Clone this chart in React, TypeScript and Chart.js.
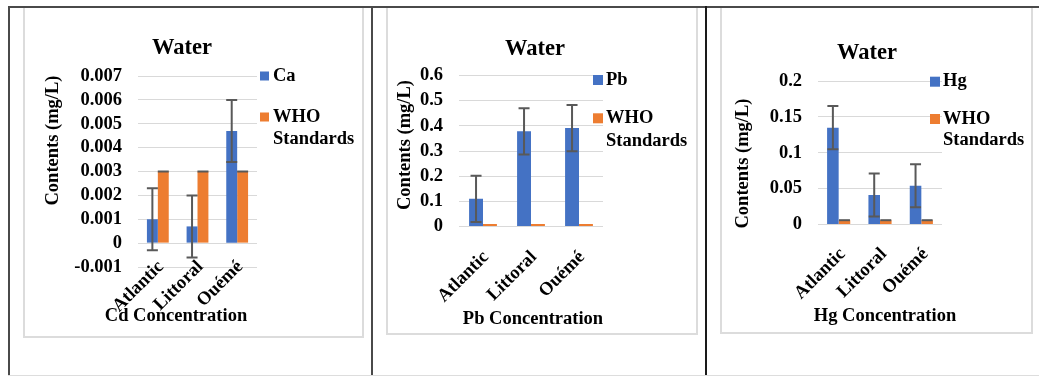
import React, { useEffect, useRef } from "react";
import { Chart, registerables } from "chart.js";

Chart.register(...registerables);

// ---------- data ----------
const REGIONS = ["Atlantic", "Littoral", "Ouémé"];
const WHO_LABEL = ["WHO", "Standards"];
const CHART_TITLE = "Water";
const Y_TITLE = "Contents (mg/L)";

const CD_SERIES = "Ca";
const CD_VALUES = [0.001, 0.0007, 0.0047];
const CD_ERRORS = [0.0013, 0.0013, 0.0013];
const CD_WHO = [0.003, 0.003, 0.003];
const CD_WHO_ERRORS = [0, 0, 0];
const CD_TICKS = ["-0.001", "0", "0.001", "0.002", "0.003", "0.004", "0.005", "0.006", "0.007"];
const CD_X_TITLE = "Cd Concentration";

const PB_SERIES = "Pb";
const PB_VALUES = [0.11, 0.378, 0.391];
const PB_ERRORS = [0.092, 0.092, 0.092];
const PB_WHO = [0.01, 0.01, 0.01];
const PB_TICKS = ["0", "0.1", "0.2", "0.3", "0.4", "0.5", "0.6"];
const PB_X_TITLE = "Pb Concentration";

const HG_SERIES = "Hg";
const HG_VALUES = [0.135, 0.041, 0.054];
const HG_ERRORS = [0.03, 0.03, 0.03];
const HG_WHO = [0.006, 0.006, 0.006];
const HG_WHO_ERRORS = [0, 0, 0];
const HG_TICKS = ["0", "0.05", "0.1", "0.15", "0.2"];
const HG_X_TITLE = "Hg Concentration";

// ---------- styles ----------
const FONT = '"Liberation Serif", "Times New Roman", serif';
const BLUE = "#4472C4";
const ORANGE = "#ED7D31";
const GRID = "#d9d9d9";
const ERR = "#595959";

const PANELS = [
  {
    key: "cd",
    frame: { left: 23, top: 6, width: 341, height: 332 },
    series: CD_SERIES, values: CD_VALUES, errors: CD_ERRORS, who: CD_WHO, whoErrors: CD_WHO_ERRORS,
    ticks: CD_TICKS, yMin: -0.001, yMax: 0.007, step: 0.001, xTitle: CD_X_TITLE,
    area: { left: 113, right: 232, top: 68, bottom: 259 },
    xAtZero: true, labelPad: 13, labelOffset: 3, catPct: 0.55,
    text: { title: [157, 40], yTitle: [28.5, 132.5], xTitle: [151, 308], boxX: 235, box: 9, textX: 248, legendY: [68, 109], lineGap: 22 },
  },
  {
    key: "pb",
    frame: { left: 386, top: 6, width: 312, height: 329 },
    series: PB_SERIES, values: PB_VALUES, errors: PB_ERRORS, who: PB_WHO, whoErrors: null,
    ticks: PB_TICKS, yMin: 0, yMax: 0.6, step: 0.1, xTitle: PB_X_TITLE,
    area: { left: 71, right: 215, top: 67.5, bottom: 218.5 },
    xAtZero: false, labelPad: 20, labelOffset: 3, catPct: 0.58,
    text: { title: [147, 41], yTitle: [17, 137], xTitle: [145, 311], boxX: 205, box: 10, textX: 218, legendY: [72, 110.3], lineGap: 23.4 },
  },
  {
    key: "hg",
    frame: { left: 720, top: 6, width: 313, height: 328 },
    series: HG_SERIES, values: HG_VALUES, errors: HG_ERRORS, who: HG_WHO, whoErrors: HG_WHO_ERRORS,
    ticks: HG_TICKS, yMin: 0, yMax: 0.2, step: 0.05, xTitle: HG_X_TITLE,
    area: { left: 96, right: 220, top: 73, bottom: 216.5 },
    xAtZero: false, labelPad: 19, labelOffset: 4, catPct: 0.56,
    text: { title: [145, 45], yTitle: [21, 155.5], xTitle: [163, 308], boxX: 208, box: 10, textX: 221, legendY: [73.7, 111], lineGap: 21.7 },
  },
];

const errorBarPlugin = {
  id: "errorBars",
  afterDatasetsDraw(chart: any) {
    const ctx = chart.ctx;
    const yScale = chart.scales.y;
    chart.data.datasets.forEach((ds: any, i: number) => {
      const errs = ds.errorBars;
      if (!errs) return;
      const meta = chart.getDatasetMeta(i);
      ctx.save();
      ctx.strokeStyle = ERR;
      ctx.lineWidth = 2;
      meta.data.forEach((bar: any, j: number) => {
        const v = ds.data[j];
        const e = errs[j];
        const x = bar.x;
        const yTop = yScale.getPixelForValue(v + e);
        const yBot = yScale.getPixelForValue(v - e);
        const half = 5.5;
        ctx.beginPath();
        if (e > 0) {
          ctx.moveTo(x, yTop);
          ctx.lineTo(x, yBot);
          ctx.moveTo(x - half, yBot);
          ctx.lineTo(x + half, yBot);
        }
        ctx.moveTo(x - half, yTop);
        ctx.lineTo(x + half, yTop);
        ctx.stroke();
      });
      ctx.restore();
    });
  },
};

function makeTextPlugin(t: any, xTitle: string) {
  return {
    id: "panelText",
    afterDraw(chart: any) {
      const ctx = chart.ctx;
      ctx.save();
      ctx.fillStyle = "#000";
      ctx.textBaseline = "middle";
      ctx.textAlign = "center";
      ctx.font = `bold 22.5px ${FONT}`;
      ctx.fillText(CHART_TITLE, t.title[0], t.title[1]);
      ctx.font = `bold 18.5px ${FONT}`;
      ctx.fillText(xTitle, t.xTitle[0], t.xTitle[1]);
      ctx.save();
      ctx.translate(t.yTitle[0], t.yTitle[1]);
      ctx.rotate(-Math.PI / 2);
      ctx.fillText(Y_TITLE, 0, 0);
      ctx.restore();
      // legend
      ctx.textAlign = "left";
      chart.data.datasets.forEach((ds: any, i: number) => {
        const cy = t.legendY[i];
        ctx.fillStyle = ds.backgroundColor;
        ctx.fillRect(t.boxX, cy - t.box / 2, t.box, t.box);
        ctx.fillStyle = "#000";
        const lines: string[] = ds.legendLines || [ds.label];
        lines.forEach((ln, k) => ctx.fillText(ln, t.textX, cy + k * t.lineGap));
      });
      ctx.restore();
    },
  };
}

function Panel({ p }: { p: any }) {
  const ref = useRef<HTMLCanvasElement>(null);
  const w = p.frame.width - 4;
  const h = p.frame.height - 4;
  useEffect(() => {
    const tickFont = { family: FONT, size: 18.5, weight: "bold" as const };
    const chart = new Chart(ref.current as HTMLCanvasElement, {
      type: "bar",
      data: {
        labels: REGIONS,
        datasets: [
          {
            label: p.series,
            data: p.values,
            backgroundColor: BLUE,
            categoryPercentage: p.catPct,
            barPercentage: 1,
            errorBars: p.errors,
          } as any,
          {
            label: WHO_LABEL.join(" "),
            legendLines: WHO_LABEL,
            data: p.who,
            backgroundColor: ORANGE,
            categoryPercentage: p.catPct,
            barPercentage: 1,
            errorBars: p.whoErrors,
          } as any,
        ],
      },
      options: {
        responsive: false,
        animation: false,
        layout: {
          autoPadding: false,
          padding: {
            top: p.area.top,
            right: w - p.area.right,
            left: 0,
            bottom: p.xAtZero ? h - p.area.bottom : 0,
          },
        },
        plugins: {
          legend: { display: false },
          title: { display: false },
          tooltip: { enabled: false },
        },
        scales: {
          x: {
            position: p.xAtZero ? { y: 0 } : "bottom",
            ticks: {
              autoSkip: false,
              minRotation: 45,
              maxRotation: 45,
              font: tickFont,
              color: "#000",
              padding: p.labelPad,
              labelOffset: p.labelOffset,
            },
            grid: { display: false, drawTicks: false },
            border: { display: false },
            afterFit: (s: any) => {
              s.height = p.xAtZero ? 0 : h - p.area.bottom;
            },
          } as any,
          y: {
            min: p.yMin,
            max: p.yMax,
            ticks: {
              stepSize: p.step,
              autoSkip: false,
              font: tickFont,
              color: "#000",
              padding: 16,
              callback: (_v: any, i: number) => p.ticks[i],
            },
            grid: { color: GRID, lineWidth: 1, drawTicks: false },
            border: { display: false },
            afterFit: (s: any) => {
              s.width = p.area.left;
            },
          } as any,
        },
      } as any,
      plugins: [errorBarPlugin, makeTextPlugin(p.text, p.xTitle)],
    });
    return () => chart.destroy();
  }, []);
  return (
    <div
      style={{
        position: "absolute",
        left: p.frame.left,
        top: p.frame.top,
        width: p.frame.width,
        height: p.frame.height,
        border: "2px solid #dcdcdc",
        boxSizing: "border-box",
        background: "#fff",
      }}
    >
      <canvas ref={ref} width={w} height={h} style={{ display: "block" }} />
    </div>
  );
}

export default function App() {
  const line = (l: number, t: number, wd: number, ht: number, c: string) => (
    <div style={{ position: "absolute", left: l, top: t, width: wd, height: ht, background: c, zIndex: 2 }} />
  );
  return (
    <div style={{ position: "absolute", left: 0, top: 0, width: 1039, height: 376, background: "#fff", overflow: "hidden" }}>
      {PANELS.map((p) => (
        <Panel key={p.key} p={p} />
      ))}
      {line(8, 6, 1031, 2, "#4a4a4a")}
      {line(8, 6, 2, 370, "#4a4a4a")}
      {line(371, 6, 2, 370, "#4a4a4a")}
      {line(705, 6, 2, 370, "#1a1a1a")}
      {line(8, 375, 1031, 1, "#dddddd")}
    </div>
  );
}
